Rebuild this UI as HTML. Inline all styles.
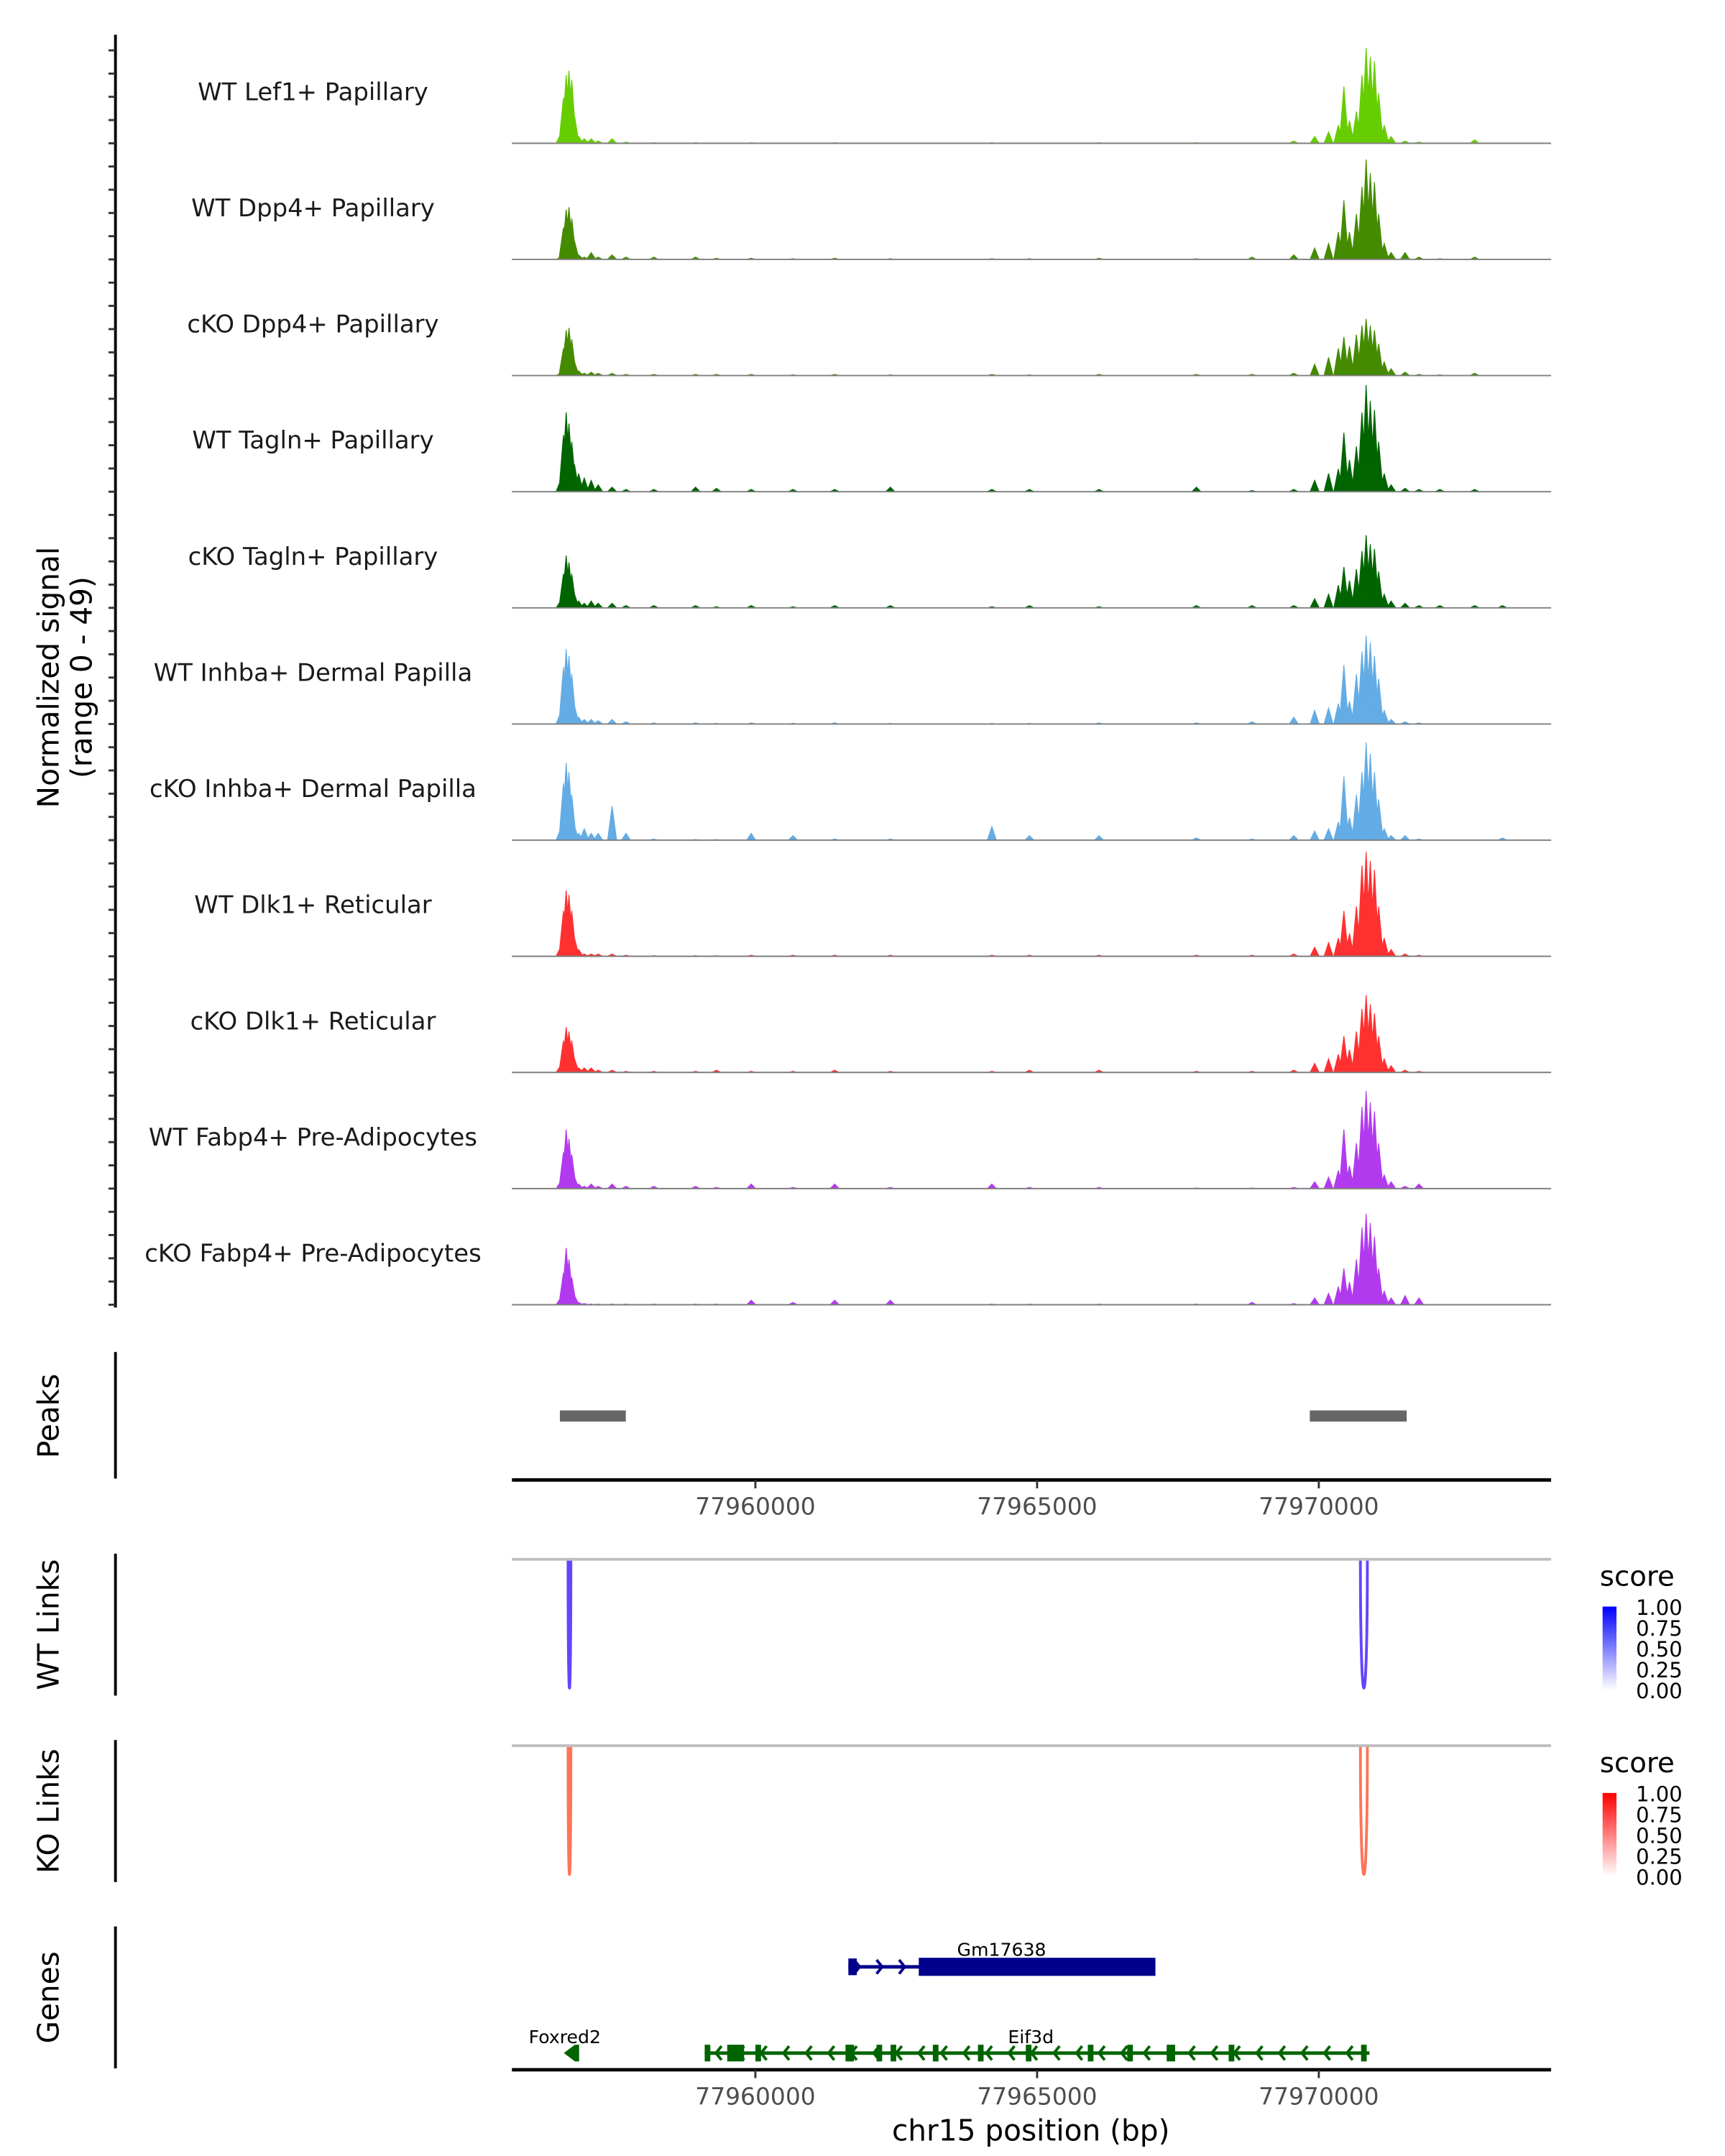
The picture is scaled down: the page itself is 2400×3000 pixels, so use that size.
<!DOCTYPE html>
<html><head><meta charset="utf-8">
<style>
html,body{margin:0;padding:0;background:#fff;}
svg{display:block;font-family:"DejaVu Sans","Liberation Sans",sans-serif;}
</style></head>
<body>
<svg id="chart" width="2400" height="3000" viewBox="0 0 1240 1550" xmlns="http://www.w3.org/2000/svg">
<rect x="0" y="0" width="1240" height="1550" fill="#fff"/>
<g id="tracks"></g>
<line x1="83" y1="25" x2="83" y2="940" stroke="#000" stroke-width="2"/>
<g id="yticks"></g>
<text x="0" y="0" transform="translate(42,487) rotate(-90)" text-anchor="middle" font-size="21" fill="#000">Normalized signal</text>
<text x="0" y="0" transform="translate(66,487) rotate(-90)" text-anchor="middle" font-size="21" fill="#000">(range 0 - 49)</text>

<line x1="83" y1="972" x2="83" y2="1063" stroke="#000" stroke-width="2"/>
<text transform="translate(42,1018) rotate(-90)" text-anchor="middle" font-size="21">Peaks</text>
<g id="peaks"></g>
<line x1="368" y1="1064" x2="1115" y2="1064" stroke="#000" stroke-width="2.5"/>
<g id="xticks1"></g>

<line x1="83" y1="1117" x2="83" y2="1219" stroke="#000" stroke-width="2"/>
<text transform="translate(42,1168) rotate(-90)" text-anchor="middle" font-size="21">WT Links</text>
<line x1="368" y1="1121" x2="1115" y2="1121" stroke="#bebebe" stroke-width="2"/>
<g id="wtlinks"></g>

<line x1="83" y1="1251" x2="83" y2="1353" stroke="#000" stroke-width="2"/>
<text transform="translate(42,1302) rotate(-90)" text-anchor="middle" font-size="21">KO Links</text>
<line x1="368" y1="1255" x2="1115" y2="1255" stroke="#bebebe" stroke-width="2"/>
<g id="kolinks"></g>

<defs>
<linearGradient id="gBlue" x1="0" y1="1" x2="0" y2="0"><stop offset="0" stop-color="#fff"/><stop offset="1" stop-color="#0000ff"/></linearGradient>
<linearGradient id="gRed" x1="0" y1="1" x2="0" y2="0"><stop offset="0" stop-color="#fff"/><stop offset="1" stop-color="#ff0000"/></linearGradient>
</defs>
<g>
<text x="1150" y="1140" font-size="20">score</text>
<rect x="1152" y="1155" width="10" height="60" fill="url(#gBlue)"/>
<g font-size="15">
<text x="1176" y="1161">1.00</text><text x="1176" y="1176">0.75</text><text x="1176" y="1191">0.50</text><text x="1176" y="1206">0.25</text><text x="1176" y="1221">0.00</text></g>
</g>
<g>
<text x="1150" y="1274" font-size="20">score</text>
<rect x="1152" y="1289" width="10" height="60" fill="url(#gRed)"/>
<g font-size="15">
<text x="1176" y="1295">1.00</text><text x="1176" y="1310">0.75</text><text x="1176" y="1325">0.50</text><text x="1176" y="1340">0.25</text><text x="1176" y="1355">0.00</text></g>
</g>

<line x1="83" y1="1385" x2="83" y2="1487" stroke="#000" stroke-width="2"/>
<text transform="translate(42,1436) rotate(-90)" text-anchor="middle" font-size="21">Genes</text>
<g id="genes"></g>
<line x1="368" y1="1488" x2="1115" y2="1488" stroke="#000" stroke-width="2.5"/>
<g id="xticks2"></g>
<text x="741" y="1539" text-anchor="middle" font-size="21">chr15 position (bp)</text>
</svg>
<script>
const trackNames = ["WT Lef1+ Papillary","WT Dpp4+ Papillary","cKO Dpp4+ Papillary","WT Tagln+ Papillary","cKO Tagln+ Papillary","WT Inhba+ Dermal Papilla","cKO Inhba+ Dermal Papilla","WT Dlk1+ Reticular","cKO Dlk1+ Reticular","WT Fabp4+ Pre-Adipocytes","cKO Fabp4+ Pre-Adipocytes"];
const trackColors = ["#66CD00","#458B00","#458B00","#006400","#006400","#63ACE5","#63ACE5","#FF3030","#FF3030","#B23AEE","#B23AEE"];
const binPositions = [77956543,77956593,77956642,77956691,77956741,77956790,77956864,
 77956963,77957086,77957210,77957457,77957704,77958198,77958938,77959309,77959926,77960667,77961407,77962395,77964197,77964864,77966099,77967827,77968815,77969556,
 77969926,77970173,77970346,77970445,77970544,77970667,77970766,77970840,77970914,77970988,77971062,77971161,77971284,77971531,77971778,77972148,77972766,77973260];
const sigLef1WT = [4,20,30,32,28,12,3, 2,2,1,2,0.5,0.3,0.3,0,0.3,0,0.3,0,0.3,0,0.3,0.3,0,1, 3,5,8,25,10,14,30,42,38,36,22,8,3,1,0.5,0,1.5,0];
const sigDpp4WT = [1,14,22,23,18,8,2, 1,3,1,2,1,1,1,0.5,0.5,0.3,0.5,0.3,0.3,0.3,0.5,0.3,1,2, 5,7,12,26,12,20,32,44,38,34,20,7,3,3,1,0.3,1,0];
const sigDpp4KO = [1,12,20,21,16,6,2, 1,1.5,1,1,0.5,0.5,0.5,0.5,0.5,0.3,0.5,0.3,0.5,0.3,0.5,0.5,0.5,1, 5,8,12,17,13,18,22,25,22,20,14,6,3,1.5,0.5,0.3,1,0];
const sigTaglnWT = [5,25,35,30,22,12,8, 6,5,3,2,1,1,2,1.5,1,1,1,2,1,1,1,2,0.5,1, 5,8,10,26,14,20,35,47,40,36,22,8,3,1.5,1,1,1,0];
const sigTaglnKO = [3,15,23,20,15,6,3, 2,3,2,2,1,1,1,0.5,1,0.5,1,1,0.5,1,0.5,1,1,1, 4,6,10,18,12,17,25,32,28,26,16,6,3,2,1,1,1,1];
const sigInhbaWT = [5,25,33,30,22,8,3, 2,2,1.5,2,1,0.5,0.5,0.3,0.5,0.3,0.5,0.3,0.3,0.3,0.5,0.5,1,3, 6,7,9,26,10,22,32,39,36,30,20,6,2,1,0.5,0,0,0];
const sigInhbaKO = [5,25,34,30,20,6,3, 5,3,3,15,3,0.5,0.3,0.3,3,2,0.5,0.5,6,2,2,1,0.5,2, 4,5,8,28,10,20,30,43,38,30,18,5,2,2,0.5,0,0,1];
const sigDlk1WT = [4,20,29,27,20,8,3, 1,1,1,1,0.5,0.3,0.3,0.3,0.5,0.5,0.5,0.5,0.5,0.5,0.5,0.5,0.5,1, 4,6,8,20,10,22,40,46,42,38,22,8,3,1,0.5,0,0,0];
const sigDlk1KO = [3,14,20,18,14,6,2, 2,2,1,1,0.5,0.5,0.5,1,0.5,0.5,1,0.5,0.5,1,1,0.5,0.5,1, 4,6,8,16,10,18,28,34,30,26,16,6,3,1,0.5,0,0,0];
const sigFabp4WT = [3,16,26,22,15,5,2, 1,2,1,2,1,1,1,0.5,2,0.5,2,0.5,2,0.5,0.5,0.3,0.3,0.5, 3,5,8,26,10,20,36,43,38,34,20,6,3,1,2,0,0,0];
const sigFabp4KO = [3,14,25,20,12,4,1, 0.5,0.3,0.3,0.3,0.3,0.3,0.3,0.3,2,1,2,2,0.3,0.3,0.3,0.3,1,0.5, 3,5,8,16,10,20,34,40,36,30,16,6,3,4,3,0,0,0];
const signals = [sigLef1WT,sigDpp4WT,sigDpp4KO,sigTaglnWT,sigTaglnKO,sigInhbaWT,sigInhbaKO,sigDlk1WT,sigDlk1KO,sigFabp4WT,sigFabp4KO];
const xTickValues = [77960000,77965000,77970000];
const peakRegions = [[77956530,77957700],[77969840,77971560]];
const wtLinkEnds = [[77956700,77970800]];
const wtLinkScores = [0.85];
const koLinkEnds = [[77956700,77970800]];
const koLinkScores = [0.7];

const NS="http://www.w3.org/2000/svg";
const X0=368,X1=1115,G0=77955679,G1=77974123,YMAX=49;
const xs=g=>X0+(g-G0)/(G1-G0)*(X1-X0);
const trackTop=20, trackStep=83.5, trackH=80;
const baseY=i=>trackTop+trackStep*(i+1)-0.5;
const ys=(v,i)=>baseY(i)-v/YMAX*trackH;
function mk(tag,attrs,parent){const e=document.createElementNS(NS,tag);for(const k in attrs)e.setAttribute(k,attrs[k]);parent.appendChild(e);return e;}

const tracks=document.getElementById('tracks');
const yt=document.getElementById('yticks');
signals.forEach((arr,i)=>{
  const g=mk('g',{},tracks);
  
  
  const b=baseY(i);
  let d='';
  const hw=80;
  arr.forEach((v,j)=>{
    if(v<=0)return;
    const p=binPositions[j];
    d+='M'+xs(p-hw).toFixed(2)+','+b+'L'+xs(p).toFixed(2)+','+ys(v,i).toFixed(2)+'L'+xs(p+hw).toFixed(2)+','+b+'Z';
  });
  const area=mk('path',{d:d,fill:trackColors[i],stroke:trackColors[i],'stroke-width':0.6},g);
  
  
  const bl=mk('line',{x1:X0,x2:X1,y1:b,y2:b,stroke:'#7f7f7f','stroke-width':1},g);
  
  
  const t=mk('text',{x:225,y:b-31,'text-anchor':'middle','font-size':17.5,fill:'#1a1a1a'},g);
  t.textContent=trackNames[i];
  
  
  for(let k=0;k<5;k++){
    const y=b-k*trackStep/5;
    const tk=mk('line',{x1:78,x2:83,y1:y,y2:y,stroke:'#333','stroke-width':1.5},yt);
    
    
  }
});

const pk=document.getElementById('peaks');
peakRegions.forEach(r=>{
  const e=mk('rect',{x:xs(r[0]),y:1014,width:xs(r[1])-xs(r[0]),height:8,fill:'#666'},pk);
  
  
});

function ticks(id,yAxis){
  const g=document.getElementById(id);
  xTickValues.forEach(v=>{
    const x=xs(v);
    const l=mk('line',{x1:x,x2:x,y1:yAxis,y2:yAxis+6,stroke:'#333','stroke-width':1.5},g);
    
    
    const t=mk('text',{x:x,y:yAxis+25,'text-anchor':'middle','font-size':17,fill:'#4d4d4d'},g);
    t.textContent=String(v);
    
    
  });
}
ticks('xticks1',1064);ticks('xticks2',1488);

function links(id,ends,scores,top,depth,color){
  const g=document.getElementById(id);
  ends.forEach((e,k)=>{
    [e[0],e[1]].forEach((p,m)=>{
      const w=m===0?1.0:2.5;
      const x=xs(p);
      const d='M'+(x-w)+','+top+' C'+(x-w)+','+(top+depth*1.3)+' '+(x+w)+','+(top+depth*1.3)+' '+(x+w)+','+top;
      const a=mk('path',{d:d,fill:'none',stroke:color,'stroke-width':2,'stroke-opacity':0.4+0.6*scores[k]},g);
      
      
    });
  });
}
links('wtlinks',wtLinkEnds,wtLinkScores,1122,94,'#5533ff');
links('kolinks',koLinkEnds,koLinkScores,1256,94,'#ff5533');

// genes
const geneNames = ["Gm17638","Eif3d","Foxred2"];
const geneStarts = [77961650,77959100,77956600];
const geneEnds = [77967100,77970900,77956900];
const geneRows = [1414,1476,1476];
const geneColors = ["#00008B","#006400","#006400"];
const geneStrand = [1,-1,-1];
const gm17638Exons = [[77961650,77961800],[77962900,77967100]];
const eif3dExons = [[77959100,77959200],[77959500,77959800],[77960000,77960100],[77961600,77961750],[77962150,77962250],[77962400,77962500],[77963150,77963250],[77963950,77964050],[77964800,77964900],[77965900,77966000],[77966600,77966700],[77967300,77967450],[77968400,77968500],[77970750,77970850]];
const foxred2Exons = [];
const geneExons=[gm17638Exons,eif3dExons,foxred2Exons];
const gg=document.getElementById('genes');
geneNames.forEach((n,i)=>{
  const g=mk('g',{},gg);
  
  
  const y=geneRows[i],c=geneColors[i];
  if(i===2){
    const x=xs(geneStarts[i]);
    mk('path',{d:'M'+x+','+y+' L'+(x+8)+','+(y-6)+' L'+(x+11)+','+(y-6)+' L'+(x+11)+','+(y+6)+' L'+(x+8)+','+(y+6)+'Z',fill:c},g);
  } else {
    mk('line',{x1:xs(geneStarts[i]),x2:xs(geneEnds[i]),y1:y,y2:y,stroke:c,'stroke-width':2.5},g);
    for(let p=geneStarts[i]+200;p<geneEnds[i]-100;p+=400){
      const x=xs(p),s=geneStrand[i]*4;
      mk('path',{d:'M'+(x-s)+','+(y-5)+' L'+x+','+y+' L'+(x-s)+','+(y+5),fill:'none',stroke:c,'stroke-width':2},g);
    }
  }
  geneExons[i].forEach((e,k)=>{
    const big=(i===0&&k===1);
    const h=big?13:12;
    mk('rect',{x:xs(e[0]),y:y-h/2,width:Math.max(3,xs(e[1])-xs(e[0])),height:h,fill:c},g);
  });
  const t=mk('text',{x:i===2?406:(i===0?720:741),y:i===0?1406:1469,'text-anchor':'middle','font-size':13,fill:'#000'},g);
  t.textContent=n;
  
  
});
</script>
</body></html>
